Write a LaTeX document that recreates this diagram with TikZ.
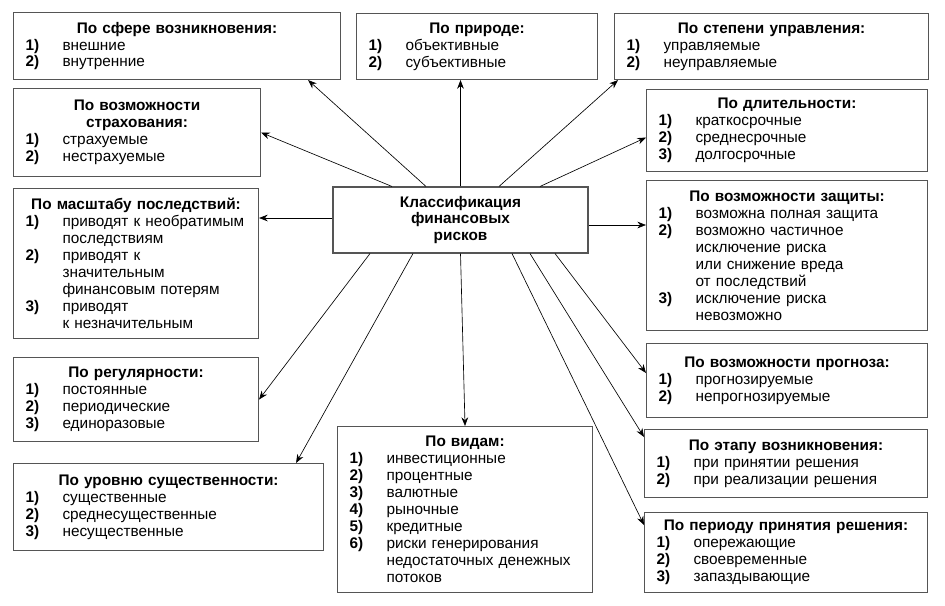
\documentclass[tikz,border=0pt]{standalone}
\usepackage{fontspec}
\setmainfont{Liberation Sans}
\usepackage{xcolor}
\definecolor{boxgray}{HTML}{555555}
\usepackage{tikz}
\usetikzlibrary{arrows.meta,calc}
\setlength{\parindent}{0pt}
\setlength{\parskip}{0pt}
\newcommand{\rnum}[1]{\makebox[1.11cm][l]{\textbf{#1}}}
\newcommand{\rcont}{\hspace*{1.11cm}}
\newcommand{\rhead}[1]{{\centering\bfseries #1\par}}
\tikzset{cbox/.style 2 args={draw=boxgray,line width=0.9pt,anchor=north west,align=left,inner xsep=0.36cm,inner ysep=0pt,text width=#1,minimum height=#2},arr/.style={-{Stealth[length=2.6mm,width=2mm]},draw=black,line width=0.55pt}}
\begin{document}
\begin{tikzpicture}[x=0.03cm,y=-0.03cm,font=\fontsize{13.1}{14.5}\selectfont,cls/.style={draw=boxgray,line width=0.9pt,align=center,font=\fontsize{13.1}{13.7}\selectfont\bfseries,minimum width=7.65cm,minimum height=1.98cm}]
\useasboundingbox (0,0) rectangle (945,605);
\node[cls] (cls) at (460.5,220) {Классификация\\финансовых\\рисков};
\node[cbox={9.09cm}{2.01cm}] (sfera) at (13,12) {\rhead{По сфере возникновения:}\rnum{1)}внешние\\\rnum{2)}внутренние};
\node[cbox={6.51cm}{1.98cm}] (priroda) at (356,13) {\rhead{По природе:}\rnum{1)}объективные\\\rnum{2)}субъективные};
\node[cbox={8.70cm}{1.98cm}] (upravl) at (614,13) {\rhead{По степени управления:}\rnum{1)}управляемые\\\rnum{2)}неуправляемые};
\node[cbox={6.69cm}{2.64cm}] (strakh) at (13,88) {\rhead{По возможности\\страхования:}\rnum{1)}страхуемые\\\rnum{2)}нестрахуемые};
\node[cbox={7.71cm}{2.46cm}] (dlit) at (646,89) {\rhead{По длительности:}\rnum{1)}краткосрочные\\\rnum{2)}среднесрочные\\\rnum{3)}долгосрочные};
\node[cbox={6.63cm}{4.50cm}] (masht) at (13,188) {\rhead{По масштабу последствий:}\rnum{1)}приводят к необратимым\\\rcont последствиям\\\rnum{2)}приводят к\\\rcont значительным\\\rcont финансовым потерям\\\rnum{3)}приводят\\\rcont к незначительным};
\node[cbox={7.71cm}{4.50cm}] (zashch) at (646,180) {\rhead{По возможности защиты:}\rnum{1)}возможна полная защита\\\rnum{2)}возможно частичное\\\rcont исключение риска\\\rcont или снижение вреда\\\rcont от последствий\\\rnum{3)}исключение риска\\\rcont невозможно};
\node[cbox={6.63cm}{2.52cm}] (regul) at (13,357) {\rhead{По регулярности:}\rnum{1)}постоянные\\\rnum{2)}периодические\\\rnum{3)}единоразовые};
\node[cbox={8.58cm}{2.61cm}] (sushch) at (13,463) {\rhead{По уровню существенности:}\rnum{1)}существенные\\\rnum{2)}среднесущественные\\\rnum{3)}несущественные};
\node[cbox={6.93cm}{4.98cm}] (vidy) at (337,426) {\rhead{По видам:}\rnum{1)}инвестиционные\\\rnum{2)}процентные\\\rnum{3)}валютные\\\rnum{4)}рыночные\\\rnum{5)}кредитные\\\rnum{6)}риски генерирования\\\rcont недостаточных денежных\\\rcont потоков};
\node[cbox={7.71cm}{2.22cm}] (prognoz) at (646,343) {\rhead{По возможности прогноза:}\rnum{1)}прогнозируемые\\\rnum{2)}непрогнозируемые};
\node[cbox={7.77cm}{2.04cm}] (etap) at (644,429) {\rhead{По этапу возникновения:}\rnum{1)}при принятии решения\\\rnum{2)}при реализации решения};
\node[cbox={7.77cm}{2.40cm}] (period) at (644,512) {\rhead{По периоду принятия решения:}\rnum{1)}опережающие\\\rnum{2)}своевременные\\\rnum{3)}запаздывающие};
\coordinate (clsw) at ($(cls.west)+(0,-2)$);
\coordinate (clse) at ($(cls.east)+(0,5)$);
\draw[arr] ($(cls.north)+(-34.5,0)$)--($(sfera.south east)+(-33,0)$);
\draw[arr] ($(cls.north)+(-68.5,0)$)--(strakh.east);
\draw[arr] (cls.north)--(cls.north |- priroda.south);
\draw[arr] ($(cls.north)+(38.5,0)$)--($(upravl.south west)+(4,0)$);
\draw[arr] ($(cls.north)+(79.5,0)$)--($(dlit.west)+(0,7)$);
\draw[arr] (clsw)--(clsw -| masht.east);
\draw[arr] (clse)--(clse -| zashch.west);
\draw[arr] ($(cls.south)+(-90.5,0)$)--(regul.east);
\draw[arr] ($(cls.south)+(-47.5,0)$)--($(sushch.north east)+(-28,0)$);
\draw[arr] (cls.south)--(vidy.north);
\draw[arr] ($(cls.south)+(51.5,0)$)--($(period.north west)+(0,13)$);
\draw[arr] ($(cls.south)+(69.5,0)$)--($(etap.north west)+(0,8)$);
\draw[arr] ($(cls.south)+(94.5,0)$)--($(prognoz.north west)+(0,30)$);
\end{tikzpicture}
\end{document}
